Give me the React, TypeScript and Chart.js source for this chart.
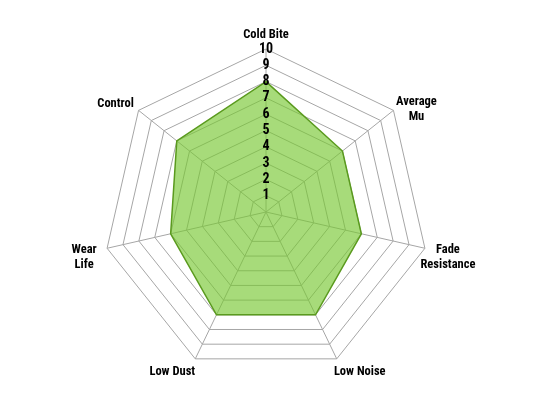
import React, { useEffect, useRef } from "react";
import { Chart, registerables } from "chart.js";

Chart.register(...registerables);

const categories: string[][] = [
  ["Cold Bite"],
  ["Average", "Mu"],
  ["Fade", "Resistance"],
  ["Low Noise"],
  ["Low Dust"],
  ["Wear", "Life"],
  ["Control"],
];
const ratings = [8, 6, 6, 7, 7, 6, 7];
const scaleMin = 0;
const scaleMax = 10;

const FONT = "'Roboto Condensed', 'Liberation Sans Narrow', sans-serif";

const labelPlugin = {
  id: "customPointLabels",
  afterDraw(chart: any) {
    const scale = chart.scales.r;
    const ctx = chart.ctx as CanvasRenderingContext2D;
    const lineH = 15;
    ctx.save();
    ctx.fillStyle = "#000";
    ctx.font = "bold 12.5px " + FONT;
    ctx.textBaseline = "middle";
    ctx.textAlign = "center";
    categories.forEach((lines, i) => {
      const v = scale.getPointPositionForValue(i, scaleMax);
      const c = scale.getPointPositionForValue(i, scaleMin);
      const len = Math.hypot(v.x - c.x, v.y - c.y) || 1;
      const dx = (v.x - c.x) / len;
      const dy = (v.y - c.y) / len;
      const cx = Math.abs(dx) < 0.05 ? v.x : v.x + Math.sign(dx) * 23;
      const firstY = v.y + 13 * dy + (lines.length === 1 && Math.abs(dx) > 0.05 ? 1.5 : -0.8);
      lines.forEach((l, k) => ctx.fillText(l, cx, firstY + k * lineH));
    });
    ctx.restore();
  },
};

export default function App() {
  const ref = useRef<HTMLCanvasElement | null>(null);
  useEffect(() => {
    if (!ref.current) return;
    const chart = new Chart(ref.current, {
      type: "radar",
      data: {
        labels: categories.map((l) => l.join(" ")),
        datasets: [
          {
            data: ratings,
            backgroundColor: "rgba(120,200,50,0.65)",
            borderColor: "#5a9a1e",
            borderWidth: 1.5,
            pointRadius: 0,
            fill: true,
          },
        ],
      },
      options: {
        animation: false,
        responsive: false,
        maintainAspectRatio: false,
        layout: { padding: { top: 40, bottom: 22, left: 0, right: 0 } },
        plugins: { legend: { display: false }, tooltip: { enabled: false } },
        scales: {
          r: {
            min: scaleMin,
            max: scaleMax,
            ticks: {
              stepSize: 1,
              showLabelBackdrop: false,
              color: "#000",
              font: { family: FONT, size: 14, weight: "bold" },
              z: 1,
            },
            grid: { color: "#a6a6a6", lineWidth: 1 },
            angleLines: { color: "#a6a6a6", lineWidth: 1 },
            pointLabels: { display: false },
          },
        },
      },
      plugins: [labelPlugin],
    });
    return () => chart.destroy();
  }, []);
  return (
    <div style={{ position: "fixed", left: 0, top: 0, width: 533, height: 406, background: "#fff" }}>
      <canvas ref={ref} width={533} height={406} style={{ width: 533, height: 406 }} />
    </div>
  );
}
